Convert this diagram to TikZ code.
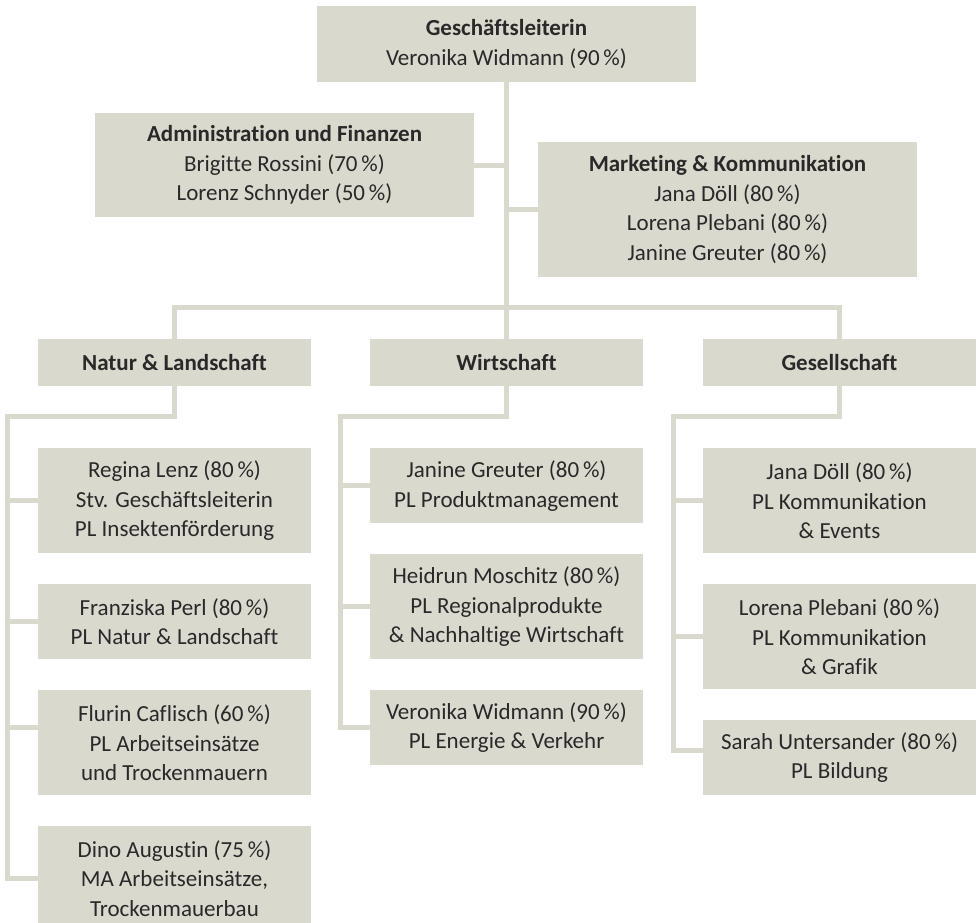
\documentclass[tikz,border=0pt]{standalone}
\usepackage{fontspec}
\setmainfont[Ligatures=CommonOff]{Carlito}
\usetikzlibrary{positioning}
\definecolor{boxgray}{HTML}{DAD9CE}
\definecolor{txtgray}{HTML}{2B2829}

\begin{document}
\begin{tikzpicture}[
  x=1pt, y=-1pt,
  font=\fontsize{23}{29.5}\selectfont, text=txtgray,
  box/.style={fill=boxgray,align=center,inner sep=0pt,minimum height=75pt},
  headbox/.style={box,minimum width=379pt},
  unitbox/.style={box,minimum width=273pt,minimum height=47pt,
                  font=\fontsize{23}{29.5}\selectfont\bfseries},
  personbox/.style={box,minimum width=273pt},
  tallbox/.style={personbox,minimum height=105pt},
  link/.style={draw=boxgray,line width=5pt,line join=miter},
  node distance=30.5pt,
]
\useasboundingbox (0,0) rectangle (980,922);

%% ---- Leitung -----------------------------------------------------------------
\node[headbox,minimum height=76pt] (gl) at (506.5,44)
  {\textbf{Geschäftsleiterin}\\Veronika Widmann (90\,\%)};

%% ---- Stabsstellen ------------------------------------------------------------
\node[headbox,minimum height=104pt] (admin) at (284.5,165)
  {\textbf{Administration und Finanzen}\\Brigitte Rossini (70\,\%)\\Lorenz Schnyder (50\,\%)};
\node[headbox,minimum height=135pt] (mk) at (727.5,209.5)
  {\textbf{Marketing \& Kommunikation}\\Jana Döll (80\,\%)\\Lorena Plebani (80\,\%)\\Janine Greuter (80\,\%)};

%% ---- Bereiche ----------------------------------------------------------------
\node[unitbox] (natur) at (174.5,362.5) {Natur \& Landschaft};
\node[unitbox] (wirt)  at (506.5,362.5) {Wirtschaft};
\node[unitbox] (ges)   at (839.5,362.5) {Gesellschaft};

%% ---- Natur & Landschaft ------------------------------------------------------
\node[tallbox, below=62pt of natur] (regina)
  {Regina Lenz (80\,\%)\\Stv. Geschäftsleiterin\\PL Insektenförderung};
\node[personbox, below=of regina] (franziska)
  {Franziska Perl (80\,\%)\\PL Natur \& Landschaft};
\node[tallbox, below=of franziska] (flurin)
  {Flurin Caflisch (60\,\%)\\PL Arbeitseinsätze\\und Trockenmauern};
\node[tallbox, below=of flurin] (dino)
  {Dino Augustin (75\,\%)\\MA Arbeitseinsätze,\\Trockenmauerbau};

%% ---- Wirtschaft --------------------------------------------------------------
\node[personbox, below=62pt of wirt] (janine)
  {Janine Greuter (80\,\%)\\PL Produktmanagement};
\node[tallbox, below=of janine] (heidrun)
  {Heidrun Moschitz (80\,\%)\\PL Regionalprodukte\\\& Nachhaltige Wirtschaft};
\node[personbox, below=of heidrun] (veronika)
  {Veronika Widmann (90\,\%)\\PL Energie \& Verkehr};

%% ---- Gesellschaft ------------------------------------------------------------
\node[tallbox, below=62pt of ges] (jana)
  {Jana Döll (80\,\%)\\PL Kommunikation\\\& Events};
\node[tallbox, below=of jana] (lorena)
  {Lorena Plebani (80\,\%)\\PL Kommunikation\\\& Grafik};
\node[personbox, below=of lorena] (sarah)
  {Sarah Untersander (80\,\%)\\PL Bildung};

%% ---- Verbindungen ------------------------------------------------------------
\coordinate (bus)  at (506.5,307.5);
\coordinate (nbus) at (7.5,416.5);
\coordinate (wbus) at (340.5,416.5);
\coordinate (gbus) at (673.5,416.5);
\coordinate (flstub) at ([yshift=15pt]flurin.west);
\coordinate (sastub) at ([yshift=7pt]sarah.west);

\draw[link] (gl) -- (wirt);
\draw[link] (admin.east) -- (admin.east -| gl.south);
\draw[link] (mk.west) -- (mk.west -| gl.south);
\draw[link] (natur.north) |- (bus) -| (ges.north);

\draw[link] (natur.south) |- (nbus) |- (dino.west);
\draw[link] (wirt.south) |- (wbus) |- (veronika.west);
\draw[link] (ges.south) |- (gbus) |- (sastub);

\foreach \n in {regina,franziska}
  \draw[link] (\n.west) -- (\n.west -| nbus);
\draw[link] (flstub) -- (flstub -| nbus);
\foreach \n in {janine,heidrun}
  \draw[link] (\n.west) -- (\n.west -| wbus);
\foreach \n in {jana,lorena}
  \draw[link] (\n.west) -- (\n.west -| gbus);

\end{tikzpicture}
\end{document}
